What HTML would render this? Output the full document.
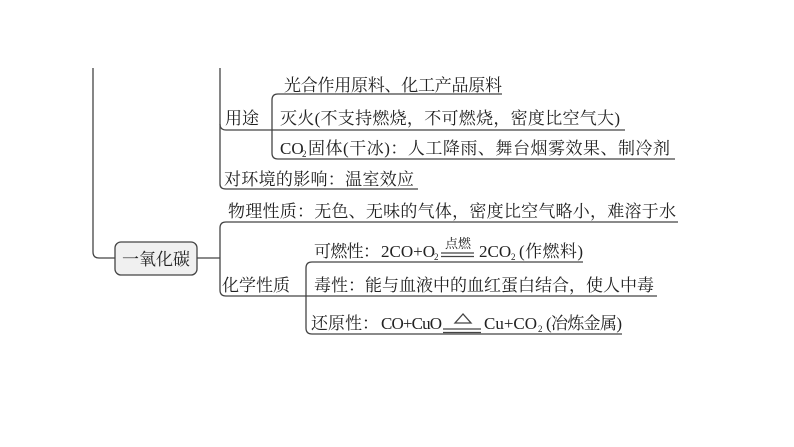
<!DOCTYPE html>
<html><head><meta charset="utf-8"><style>
html,body{margin:0;padding:0;background:#fff;}
svg{display:block;}
text{font-family:"Liberation Serif","Noto Serif CJK SC",serif;font-size:17px;fill:#222;}
text.s{font-size:9px;}
text.m{font-size:13px;}
</style></head><body>
<svg width="794" height="447" viewBox="0 0 794 447" xmlns="http://www.w3.org/2000/svg">
<g fill="none" stroke="#444" stroke-width="1.3">
<path d="M93 68 V252 Q93 258 99 258 H115"/>
<rect x="115" y="242" width="82" height="33" rx="6" fill="#f0f0f0"/>
<path d="M197 258 H220"/>
<path d="M220 68 V184 Q220 189 226 189 H418"/>
<path d="M220 124 Q220 130 226 130 H625"/>
<path d="M278 94 Q272 94 272 100 V153 Q272 159 278 159 H675"/>
<path d="M278 94 H502"/>
<path d="M226 222 Q220 222 220 228 V290 Q220 296 226 296 H657"/>
<path d="M226 222 H678"/>
<path d="M312 262 Q306 262 306 268 V328 Q306 334 312 334 H622"/>
<path d="M312 262 H583"/>
<path d="M441 253 H474 M441 256.5 H474"/>
<path d="M443 329 H481 M443 332.5 H481"/>
<path d="M463 314 L455 323 H471 Z"/>
</g>
<text x="284" y="91" textLength="218">光合作用原料、化工产品原料</text>
<text x="225" y="124">用途</text>
<text x="280" y="124" textLength="340">灭火(不支持燃烧，不可燃烧，密度比空气大)</text>
<text x="280" y="154">CO</text>
<text class="s" x="302" y="157">2</text>
<text x="308" y="154" textLength="362">固体(干冰)：人工降雨、舞台烟雾效果、制冷剂</text>
<text x="224" y="185" textLength="190">对环境的影响：温室效应</text>
<text x="228" y="217" textLength="448">物理性质：无色、无味的气体，密度比空气略小，难溶于水</text>
<text x="122" y="265">一氧化碳</text>
<text x="222" y="291">化学性质</text>
<text x="314" y="257" textLength="66">可燃性：</text>
<text x="381" y="257">2CO+O</text>
<text class="s" x="434" y="260">2</text>
<text class="m" x="445" y="248">点燃</text>
<text x="479" y="257">2CO</text>
<text class="s" x="511" y="260">2</text>
<text x="519" y="257" textLength="64">(作燃料)</text>
<text x="314" y="291" textLength="340">毒性：能与血液中的血红蛋白结合，使人中毒</text>
<text x="311" y="329" textLength="68">还原性：</text>
<text x="381" y="329" textLength="61">CO+CuO</text>
<text x="484" y="329">Cu+CO</text>
<text class="s" x="538" y="332">2</text>
<text x="546" y="329" textLength="76">(冶炼金属)</text>
</svg>
</body></html>
